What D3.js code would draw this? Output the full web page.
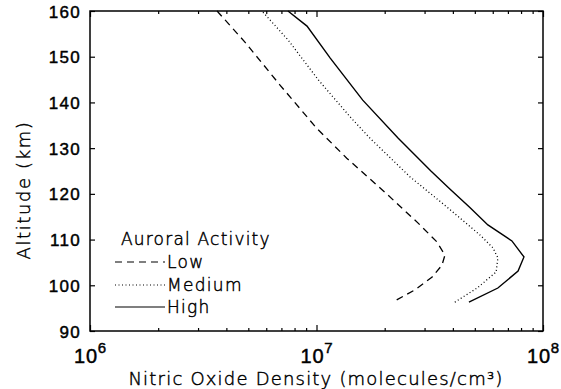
<!DOCTYPE html>
<html>
<head>
<meta charset="utf-8">
<script src="https://cdn.jsdelivr.net/npm/d3@7"></script>
<style>
  body { margin: 0; background: #fff; }
  svg { display: block; font-family: "DejaVu Sans", sans-serif; font-weight: 200; }
  svg text { fill: #000; stroke: #000; stroke-width: 0.45px; }
  .axis path { display: none; }
  .axis line { stroke: #000; stroke-width: 1.2; }
</style>
</head>
<body>
<svg id="chart" width="561" height="389"></svg>
<script>
// data (altitude in km, density in molecules/cm^3)
const lowAlt = [96.8, 99.0, 101.8, 104.4, 106.6, 109.5, 113.6, 116.5, 120, 127.8, 134.4, 143.8, 153.2, 160]
const lowDens = [2.26e7, 2.72e7, 3.24e7, 3.58e7, 3.69e7, 3.40e7, 2.81e7, 2.43e7, 2.04e7, 1.36e7, 1.00e7, 6.90e6, 4.83e6, 3.64e6]

const medAlt = [96.3, 99.4, 102.9, 106.0, 108.2, 111.0, 117.1, 123.7, 132.2, 136.8, 144.9, 153.7, 160]
const medDens = [4.08e7, 5.12e7, 6.21e7, 6.32e7, 6.01e7, 5.27e7, 3.77e7, 2.59e7, 1.72e7, 1.41e7, 1.02e7, 7.48e6, 5.74e6]

const highAlt = [96.3, 99.4, 103.1, 106.2, 109.7, 113.2, 117.1, 121, 125, 132.2, 140.5, 149.7, 156.7, 160]
const highDens = [4.71e7, 6.32e7, 7.76e7, 8.24e7, 7.29e7, 5.71e7, 4.73e7, 3.89e7, 3.20e7, 2.29e7, 1.60e7, 1.15e7, 9.08e6, 7.48e6]

const seriesNames = ["Low", "Medium", "High"]
const xMajor = [1e6, 1e7, 1e8]
const xExponents = ["6", "7", "8"]
const yTicks = [90, 100, 110, 120, 130, 140, 150, 160]

const series = [
  { name: seriesNames[0], alt: lowAlt, dens: lowDens, dash: "7,5" },
  { name: seriesNames[1], alt: medAlt, dens: medDens, dash: "1,2.5" },
  { name: seriesNames[2], alt: highAlt, dens: highDens, dash: null }
]

const X0 = 90, X1 = 543, Y0 = 11, Y1 = 331
const svg = d3.select('#chart')

const x = d3.scaleLog().domain([1e6, 1e8]).range([X0, X1])
const y = d3.scaleLinear().domain([90, 160]).range([Y1, Y0])

// minor log ticks 2..9 in each decade
const xMinor = []
for (let d = 1e6; d < 1e8; d *= 10) {
  for (let k = 2; k <= 9; k++) xMinor.push(d * k)
}

// bottom axis
svg.append('g').attr('class', 'axis')
  .attr('transform', `translate(0, ${Y1})`)
  .call(d3.axisBottom(x).tickValues(xMinor).tickSize(-3).tickFormat(''))
const xb = svg.append('g').attr('class', 'axis')
  .attr('transform', `translate(0, ${Y1})`)
  .call(d3.axisBottom(x).tickValues(xMajor).tickSize(-6).tickFormat(''))
xb.selectAll('.tick').append('text')
  .attr('y', 32)
  .attr('text-anchor', 'middle')
  .style('font-size', '20px')
  .style('letter-spacing', '0.8px')
  .each(function (d, i) {
    const t = d3.select(this)
    t.append('tspan').text('10')
    t.append('tspan').attr('dy', -10).style('font-size', '15px').text(xExponents[i])
  })

// top axis (mirror)
svg.append('g').attr('class', 'axis')
  .attr('transform', `translate(0, ${Y0})`)
  .call(d3.axisTop(x).tickValues(xMinor).tickSize(-3).tickFormat(''))
svg.append('g').attr('class', 'axis')
  .attr('transform', `translate(0, ${Y0})`)
  .call(d3.axisTop(x).tickValues(xMajor).tickSize(-6).tickFormat(''))

// left axis
svg.append('g').attr('class', 'axis')
  .attr('transform', `translate(${X0}, 0)`)
  .call(d3.axisLeft(y).tickValues(yTicks).tickSize(-5).tickPadding(9))
  .selectAll('text')
  .style('font-size', '17px')
  .attr('dy', '0.36em')
  .style('letter-spacing', '1.3px')

// right axis (mirror)
svg.append('g').attr('class', 'axis')
  .attr('transform', `translate(${X1}, 0)`)
  .call(d3.axisRight(y).tickValues(yTicks).tickSize(-5).tickFormat(''))

// frame
svg.append('rect')
  .attr('x', X0).attr('y', Y0)
  .attr('width', X1 - X0).attr('height', Y1 - Y0)
  .attr('fill', 'none').attr('stroke', '#000').attr('stroke-width', 1.5)

// curves
const line = d3.line()
  .x(d => x(d[1]))
  .y(d => y(d[0]))

svg.selectAll('.curve')
  .data(series)
  .enter()
  .append('path')
  .attr('class', 'curve')
  .attr('d', d => line(d3.zip(d.alt, d.dens)))
  .attr('fill', 'none')
  .attr('stroke', '#000')
  .attr('stroke-width', d => d.dash ? 1.3 : 1.4)
  .attr('stroke-dasharray', d => d.dash)

// legend
const legend = svg.append('g').style('font-size', '17px')
legend.append('text')
  .attr('x', 121).attr('y', 245)
  .style('letter-spacing', '1.2px')
  .text('Auroral Activity')

const legY = [262, 285, 307]
series.forEach((s, i) => {
  legend.append('line')
    .attr('x1', 115).attr('x2', 165)
    .attr('y1', legY[i]).attr('y2', legY[i])
    .attr('stroke', '#000')
    .attr('stroke-width', 1.2)
    .attr('stroke-dasharray', s.dash)
  legend.append('text')
    .attr('x', 167).attr('y', legY[i] + 6)
    .style('letter-spacing', '1.3px')
    .text(s.name)
})

// axis titles
svg.append('text')
  .attr('transform', 'translate(30, 190) rotate(-90)')
  .attr('text-anchor', 'middle')
  .style('font-size', '18px')
  .style('letter-spacing', '1.6px')
  .text('Altitude (km)')

svg.append('text')
  .attr('x', 316).attr('y', 385)
  .attr('text-anchor', 'middle')
  .style('font-size', '18px')
  .style('letter-spacing', '1.2px')
  .text('Nitric Oxide Density (molecules/cm³)')
</script>
</body>
</html>
